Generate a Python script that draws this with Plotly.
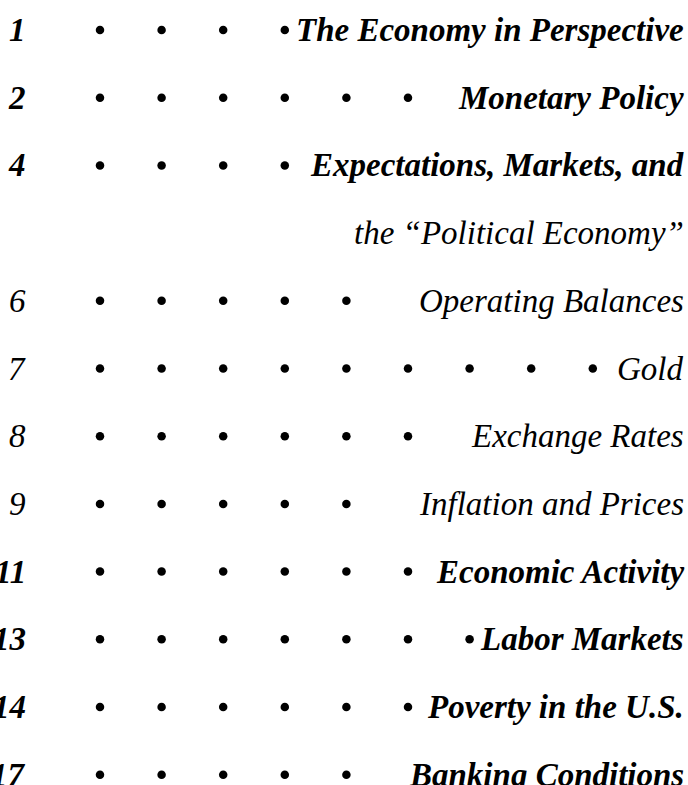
import plotly.graph_objects as go

# Table-of-contents data
pages = ["1", "2", "4", "", "6", "7", "8", "9", "11", "13", "14", "17"]
titles = ["The Economy in Perspective", "Monetary Policy", "Expectations, Markets, and",
          "the \u201cPolitical Economy\u201d", "Operating Balances", "Gold", "Exchange Rates",
          "Inflation and Prices", "Economic Activity", "Labor Markets",
          "Poverty in the U.S.", "Banking Conditions"]
leader_dots = [4, 6, 4, 0, 5, 9, 6, 5, 6, 7, 6, 5]
condensed = [False, False, False, True, True, True, True, True, False, False, False, False]

W, H = 688, 785
fig = go.Figure()

xs, ys = [], []
for r, n in enumerate(leader_dots):
    for k in range(1, n + 1):
        xs.append(k)
        ys.append(r)
fig.add_trace(go.Scatter(x=xs, y=ys, mode="markers",
                         marker=dict(size=8.5, color="black", line=dict(width=0)),
                         hoverinfo="skip", showlegend=False))

bold_font = dict(family="Liberation Serif", size=33, color="black", weight="bold", style="italic")
cond_font = dict(family="Liberation Serif", size=33, color="black", weight="normal", style="italic")

for r, (p, t, c) in enumerate(zip(pages, titles, condensed)):
    f = cond_font if c else bold_font
    fig.add_annotation(x=686 / W, xref="paper", y=r, yref="y", text=t, showarrow=False,
                       xanchor="right", yanchor="middle", font=f)
    if p:
        fig.add_annotation(x=28 / W, xref="paper", y=r, yref="y", text=p, showarrow=False,
                           xanchor="right", yanchor="middle", font=f)

# pixel = 38.4 + 61.6 * x ; pixel_y = 30 + 67.7 * r
fig.update_xaxes(range=[-38.4 / 61.6, (W - 38.4) / 61.6], visible=False, fixedrange=True)
fig.update_yaxes(range=[(H - 30) / 67.7, -30 / 67.7], visible=False, fixedrange=True)
fig.update_layout(width=W, height=H, margin=dict(l=0, r=0, t=0, b=0),
                  paper_bgcolor="white", plot_bgcolor="white")

fig.write_html("out.html", config={"displayModeBar": False},
               post_script="document.body.style.margin='0';document.body.style.overflow='hidden';")
